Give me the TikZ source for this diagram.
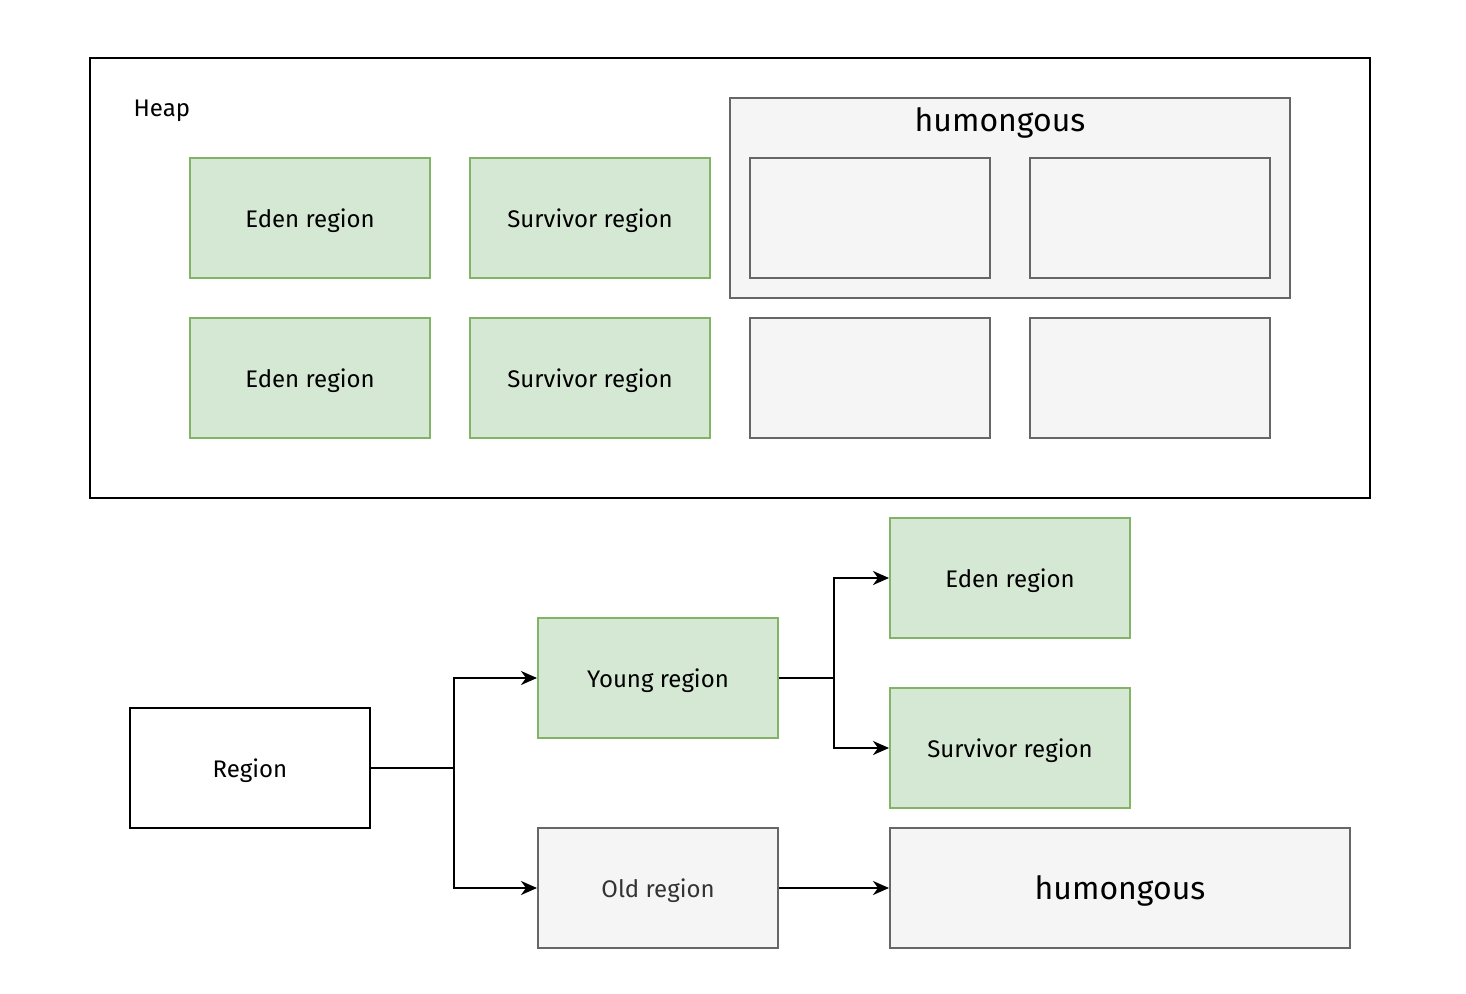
\documentclass[tikz,border=0pt]{standalone}
\usepackage{fontspec}
\setmainfont{Fira Sans}
\usetikzlibrary{arrows.meta,calc}

\definecolor{greenfill}{HTML}{D5E8D4}
\definecolor{greenline}{HTML}{82B366}
\definecolor{greyfill}{HTML}{F5F5F5}
\definecolor{greyline}{HTML}{666666}
\definecolor{greytext}{HTML}{333333}

\begin{document}
\begin{tikzpicture}[x=0.5pt,y=-0.5pt,line width=1pt,
  box/.style={draw,rectangle,inner sep=0pt,text depth=0pt,minimum width=120pt,minimum height=60pt,font=\fontsize{12}{14}\selectfont},
  green/.style={box,fill=greenfill,draw=greenline},
  grey/.style={box,fill=greyfill,draw=greyline},
  arr/.style={-{Stealth[length=8pt,width=7pt,inset=2.5pt]}}]
\useasboundingbox (0,0) rectangle (1466,994);
% heap
\node[draw=black,rectangle,inner sep=0pt,minimum width=640pt,minimum height=220pt] (heap) at (730,278) {};
\node[anchor=west,font=\fontsize{12}{14}\selectfont] (heaplbl) at (126,111) {Heap};
\node[grey,minimum width=280pt,minimum height=100pt] (humbox) at (1010,198) {};
\node[font=\fontsize{16}{18}\selectfont] (humlbl) at (1000,123) {humongous};
\node[green] (eden1) at (310,218) {Eden region};
\node[green] (surv1) at (590,218) {Survivor region};
\node[grey] (hum1) at (870,218) {};
\node[grey] (hum2) at (1150,218) {};
\node[green] (eden2) at (310,378) {Eden region};
\node[green] (surv2) at (590,378) {Survivor region};
\node[grey] (free1) at (870,378) {};
\node[grey] (free2) at (1150,378) {};
% region tree
\node[box] (region) at (250,768) {Region};
\node[green] (young) at (658,678) {Young region};
\node[grey,text=greytext] (old) at (658,888) {Old region};
\node[green] (eden3) at (1010,578) {Eden region};
\node[green] (surv3) at (1010,748) {Survivor region};
\node[grey,minimum width=230pt,font=\fontsize{16}{18}\selectfont] (hum3) at (1120,888) {humongous};
\coordinate (j1) at ($(region.east)!0.5!(young.west)$);
\coordinate (j2) at ($(young.east)!0.5!(eden3.west)$);
\draw[arr] (region.east) -- (region.east -| j1) |- (young.west);
\draw[arr] (region.east) -- (region.east -| j1) |- (old.west);
\draw[arr] (young.east) -- (young.east -| j2) |- (eden3.west);
\draw[arr] (young.east) -- (young.east -| j2) |- (surv3.west);
\draw[arr] (old.east) -- (hum3.west);
\end{tikzpicture}
\end{document}
